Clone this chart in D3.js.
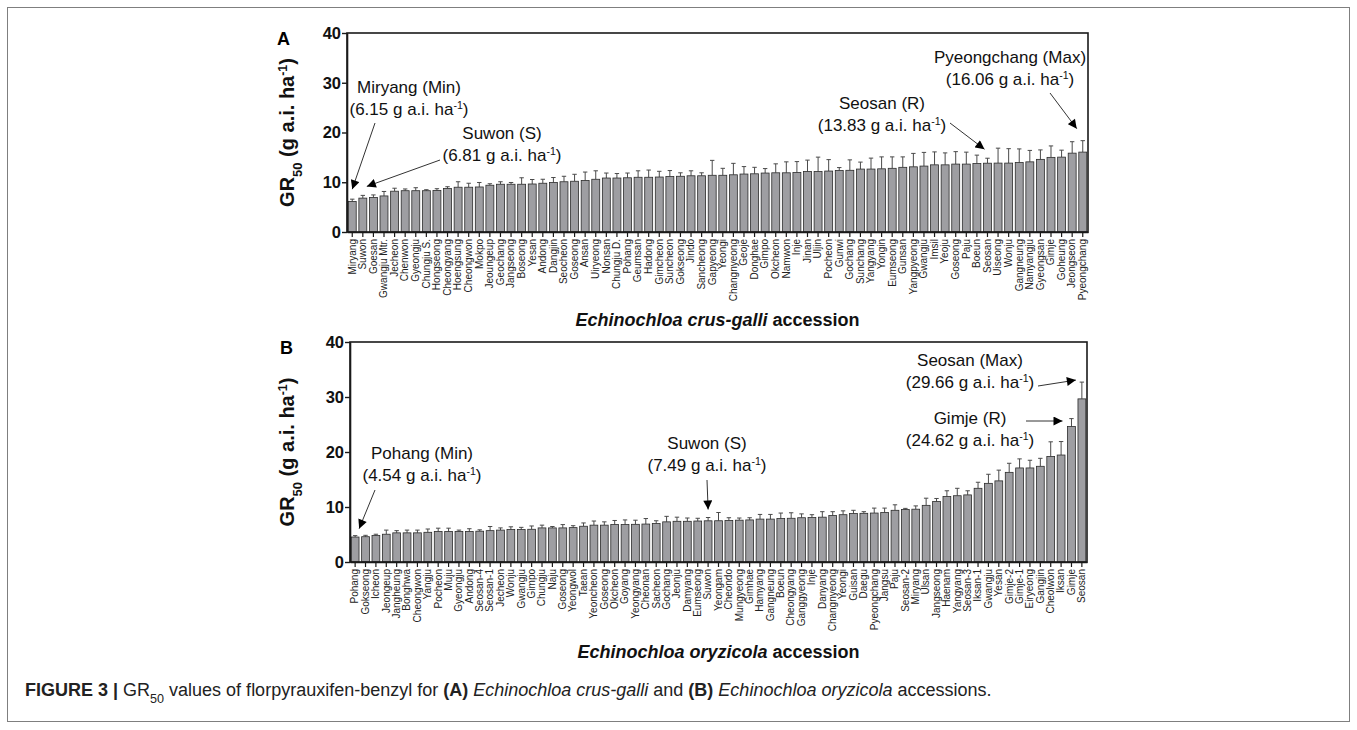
<!DOCTYPE html>
<html><head><meta charset="utf-8">
<script src="https://cdn.jsdelivr.net/npm/d3@7/dist/d3.min.js"></script>
<style>
html,body{margin:0;padding:0;background:#fff;}
svg{display:block;font-family:Arial,"Liberation Sans",sans-serif;}
</style></head>
<body>
<svg id="chart" width="1357" height="730"></svg>
<script>
// ---------- DATA ----------
const catsA = ["Miryang","Suwon","Goesan","Gwangju Mtr.","Jecheon","Chenwon","Gyeongju","Chungju S.","Hongseong","Cheongyang","Hoengsung","Cheongwon","Mokpo","Jeoungeup","Geochang","Jangseong","Boseong","Yesan","Andong","Dangjin","Seocheon","Goseong","Ansan","Uiryeong","Nonsan","Chungju D.","Pohang","Geumsan","Hadong","Gimcheon","Suncheon","Gokseong","Jindo","Sancheong","Gapyeong","Yeongi","Changnyeong","Geoje","Donghae","Gimpo","Okcheon","Namwon","Inje","Jinan","Uljin","Pocheon","Gunwi","Gochang","Sunchang","Yangyang","Yongin","Eumseong","Gunsan","Yangpyeong","Gwangju","Imsil","Yeoju","Goseong ","Paju","Boeun","Seosan","Uiseong","Wonju","Gangneung","Namyangju","Gyeongsan","Gimje","Goheung","Jeongseon","Pyeongchang"];
const valsA = [6.15,6.81,6.95,7.25,8.2,8.3,8.3,8.3,8.35,8.75,9.0,9.0,9.05,9.4,9.6,9.6,9.6,9.65,9.8,9.95,10.1,10.2,10.35,10.6,10.85,10.85,10.9,11.0,11.0,11.05,11.15,11.2,11.3,11.3,11.4,11.4,11.5,11.65,11.7,11.85,11.9,11.9,11.95,12.15,12.15,12.25,12.35,12.4,12.65,12.65,12.7,12.8,13.0,13.1,13.25,13.5,13.5,13.65,13.65,13.75,13.83,13.85,13.85,13.95,14.1,14.6,15.0,15.05,15.85,16.06];
const errA = [0.45,0.55,0.5,0.9,0.6,0.35,0.6,0.2,0.35,0.35,1.1,0.8,0.9,0.3,0.5,0.35,1.3,0.9,0.8,1.0,1.1,1.4,1.7,1.7,1.0,0.9,0.95,1.3,1.45,1.15,1.2,0.7,1.0,0.6,3.0,1.4,2.3,1.5,1.3,0.9,1.8,2.2,2.2,2.3,2.9,2.3,0.6,2.1,1.4,2.2,2.4,2.3,2.1,2.7,2.75,2.6,2.4,2.5,2.4,1.7,1.0,3.0,2.9,2.75,2.3,1.9,2.3,1.4,2.3,2.3];

const catsB = ["Pohang","Gokseong","Icheon","Jeongeup","Jangheung","Bonghwa","Cheongwon","Yangju","Pocheon","Muju","Gyeongju","Andong","Seosan-4","Seosan-1","Jecheon","Wonju","Gwangju","Gimpo","Chungju","Naju","Goseong","Yeongwol","Taean","Yeoncheon","Goseong ","Okcheon","Goyang","Yeongyang","Cheonan","Sacheon","Gochang","Jeonju","Damyang","Eumseong","Suwon","Yeongam","Cheondo","Mungyeong","Gimhae","Hamyang","Gangneung","Boeun","Cheongyang","Ganggyeong","Inje","Danyang","Changnyeong","Yeongi","Guisan","Daegu","Pyeongchang","Jangsu","Paju","Seosan-2","Miryang","Ulsan","Jangseong","Haenam","Yangyang","Seosan-3","Iksan-1","Gwangju ","Yesan","Gimje-2","Gimje-1","Eiryeong","Gangjin","Cheolwon","Iksan","Gimje","Seosan"];
const valsB = [4.54,4.6,4.8,5.05,5.3,5.3,5.3,5.4,5.55,5.55,5.55,5.55,5.6,5.7,5.8,5.9,5.9,5.95,6.2,6.2,6.2,6.25,6.5,6.7,6.7,6.8,6.8,6.85,6.9,7.0,7.3,7.4,7.4,7.45,7.49,7.5,7.55,7.6,7.65,7.8,7.8,7.9,7.95,8.05,8.1,8.15,8.45,8.6,8.8,8.85,8.9,9.0,9.4,9.55,9.6,10.3,11.0,11.9,12.05,12.2,13.4,14.3,14.75,16.3,17.1,17.1,17.4,19.2,19.45,24.62,29.66];
const errB = [0.25,0.25,0.25,0.75,0.4,0.5,0.5,0.6,0.6,0.6,0.25,0.5,0.25,0.75,0.4,0.5,0.4,0.6,0.5,0.25,0.6,0.35,0.6,0.75,0.6,0.75,0.85,0.75,1.0,0.5,1.0,0.75,0.6,0.5,0.6,1.5,0.5,0.4,0.4,0.85,0.85,1.0,1.0,0.7,0.5,1.0,0.7,0.7,0.6,0.3,0.9,0.8,1.0,0.2,0.6,1.3,0.55,1.05,1.35,0.75,1.1,1.65,1.95,1.65,1.65,1.4,1.45,2.65,2.45,1.45,3.05];

const yTicks = [0,10,20,30,40];

// annotations: category, label, value text, text centre/baseline, arrow start, tip offset from error-bar top
const annA = [
  {cat:"Miryang", l1:"Miryang (Min)", v:"6.15", tx:409, ty:93, sx:375, sy:123, dx:0, dy:-10},
  {cat:"Suwon", l1:"Suwon (S)", v:"6.81", tx:502, ty:139, sx:440, sy:160, dx:4, dy:-9},
  {cat:"Seosan", l1:"Seosan (R)", v:"13.83", tx:882, ty:109, sx:950, sy:123, dx:-3, dy:-9},
  {cat:"Pyeongchang", l1:"Pyeongchang (Max)", v:"16.06", tx:1010, ty:63, sx:1050, sy:93, dx:-6, dy:-12}
];
const annB = [
  {cat:"Pohang", l1:"Pohang (Min)", v:"4.54", tx:422, ty:459, sx:375, sy:490, dx:4, dy:-7},
  {cat:"Suwon", l1:"Suwon (S)", v:"7.49", tx:707, ty:449, sx:707, sy:480, dx:0, dy:-8},
  {cat:"Seosan", l1:"Seosan (Max)", v:"29.66", tx:970, ty:366, sx:1038, sy:386, dx:-6, dy:-2},
  {cat:"Gimje", l1:"Gimje (R)", v:"24.62", tx:970, ty:424, sx:1026, sy:421, dx:-9, dy:-5, horiz:true}
];

// ---------- DRAW ----------
const svg = d3.select("#chart");
svg.append("rect").attr("x",7.5).attr("y",7.5).attr("width",1342).attr("height",714)
  .attr("fill","none").attr("stroke","#7f7f7f").attr("stroke-width",1);

const defs = svg.append("defs");
defs.append("marker").attr("id","arr").attr("viewBox","0 0 10 10").attr("refX",10).attr("refY",5)
  .attr("markerWidth",10).attr("markerHeight",9).attr("markerUnits","userSpaceOnUse").attr("orient","auto")
  .append("path").attr("d","M0,0 L10,5 L0,10 Z").attr("fill","#000");

function supText(sel, pre, sup, post){
  sel.append("tspan").text(pre);
  sel.append("tspan").attr("baseline-shift","super").attr("font-size","0.62em").text(sup);
  if(post) sel.append("tspan").text(post);
}

function panel(o){
  const g = svg.append("g");
  const x = d3.scaleBand().domain(o.cats).range([o.x0,o.x1]).paddingInner(0.25).paddingOuter(0.12);
  const y = d3.scaleLinear().domain([0,40]).range([o.yb,o.yt]);
  const data = o.cats.map((c,i)=>({c, v:o.vals[i], e:o.errs[i]}));
  const bw = x.bandwidth();

  // error bars
  const eg = g.append("g").attr("stroke","#4a4a4a").attr("stroke-width",1);
  eg.selectAll("line.v").data(data).join("line")
    .attr("x1",d=>x(d.c)+bw/2).attr("x2",d=>x(d.c)+bw/2)
    .attr("y1",d=>y(d.v)).attr("y2",d=>y(d.v+d.e));
  eg.selectAll("line.c").data(data).join("line")
    .attr("x1",d=>x(d.c)+bw/2-2.2).attr("x2",d=>x(d.c)+bw/2+2.2)
    .attr("y1",d=>y(d.v+d.e)).attr("y2",d=>y(d.v+d.e));
  // bars
  g.append("g").selectAll("rect").data(data).join("rect")
    .attr("x",d=>x(d.c)).attr("width",bw)
    .attr("y",d=>y(d.v)).attr("height",d=>y(0)-y(d.v))
    .attr("fill","#9e9ea2").attr("stroke","#2b2b2b").attr("stroke-width",0.8);

  // frame
  g.append("rect").attr("x",o.x0).attr("y",o.yt).attr("width",o.x1-o.x0).attr("height",o.yb-o.yt)
    .attr("fill","none").attr("stroke","#1a1a1a").attr("stroke-width",1.6);

  // y axis
  const ya = g.append("g").attr("transform",`translate(${o.x0},0)`)
    .call(d3.axisLeft(y).tickValues(yTicks).tickSize(5).tickSizeOuter(0).tickFormat(d3.format("d")));
  ya.select(".domain").attr("stroke","#1a1a1a").attr("stroke-width",1.6);
  ya.selectAll(".tick line").attr("stroke","#1a1a1a").attr("stroke-width",1.4);
  ya.selectAll(".tick text").attr("font-size",16.5).attr("font-weight","bold")
    .attr("font-family","Arial, 'Liberation Sans', sans-serif").attr("fill","#111").attr("x",-6);

  // x axis
  const xa = g.append("g").attr("transform",`translate(0,${o.yb})`)
    .call(d3.axisBottom(x).tickSize(5).tickSizeOuter(0));
  xa.select(".domain").attr("stroke","#1a1a1a").attr("stroke-width",1.6);
  xa.selectAll(".tick line").attr("stroke","#1a1a1a").attr("stroke-width",1.2);
  xa.selectAll(".tick text").attr("font-size",10).attr("fill","#222")
    .attr("font-family","Arial, 'Liberation Sans', sans-serif")
    .attr("transform","rotate(-90)").attr("text-anchor","end")
    .attr("x",-7).attr("y",0).attr("dy","0.33em");

  // y title
  const yt = g.append("text").attr("transform",`translate(${o.ytx},${(o.yt+o.yb)/2}) rotate(-90)`)
    .attr("text-anchor","middle").attr("font-size",20).attr("font-weight","bold").attr("fill","#111");
  yt.append("tspan").text("GR");
  yt.append("tspan").attr("baseline-shift","sub").attr("font-size","0.65em").text("50");
  yt.append("tspan").text(" (g a.i. ha");
  yt.append("tspan").attr("baseline-shift","super").attr("font-size","0.62em").text("-1");
  yt.append("tspan").text(")");

  // panel letter
  g.append("text").attr("x",o.x0-70).attr("y",o.yt+12).attr("font-size",18).attr("font-weight","bold").text(o.letter);

  // x title
  const xt = g.append("text").attr("x",(o.x0+o.x1)/2).attr("y",o.xty).attr("text-anchor","middle")
    .attr("font-size",18).attr("font-weight","bold").attr("fill","#111");
  xt.append("tspan").attr("font-style","italic").text(o.species);
  xt.append("tspan").text(" accession");

  // annotations
  o.ann.forEach(a=>{
    const d = data.find(r=>r.c===a.cat);
    g.append("text").attr("x",a.tx).attr("y",a.ty).attr("text-anchor","middle")
      .attr("font-size",17).attr("fill","#111").text(a.l1);
    const t2 = g.append("text").attr("x",a.tx).attr("y",a.ty+22).attr("text-anchor","middle")
      .attr("font-size",17).attr("fill","#111");
    supText(t2, "("+a.v+" g a.i. ha", "-1", ")");
    const tipX = x(d.c)+bw/2+a.dx;
    const tipY = y(d.v+d.e)+a.dy;
    g.append("line").attr("x1",a.sx).attr("y1",a.sy)
      .attr("x2",tipX).attr("y2",a.horiz?a.sy:tipY)
      .attr("stroke","#333").attr("stroke-width",1).attr("marker-end","url(#arr)");
  });
}

panel({cats:catsA, vals:valsA, errs:errA, x0:347, x1:1088, yt:33, yb:232, ytx:294, xty:326,
  letter:"A", species:"Echinochloa crus-galli", ann:annA});
panel({cats:catsB, vals:valsB, errs:errB, x0:350, x1:1087, yt:342, yb:562, ytx:294, xty:658,
  letter:"B", species:"Echinochloa oryzicola", ann:annB});

// caption
const cap = svg.append("text").attr("x",25).attr("y",696).attr("font-size",18).attr("fill","#222");
cap.append("tspan").attr("font-weight","bold").text("FIGURE 3 | ");
cap.append("tspan").text("GR");
cap.append("tspan").attr("baseline-shift","sub").attr("font-size","0.7em").text("50");
cap.append("tspan").text(" values of florpyrauxifen-benzyl for ");
cap.append("tspan").attr("font-weight","bold").text("(A) ");
cap.append("tspan").attr("font-style","italic").text("Echinochloa crus-galli");
cap.append("tspan").text(" and ");
cap.append("tspan").attr("font-weight","bold").text("(B) ");
cap.append("tspan").attr("font-style","italic").text("Echinochloa oryzicola");
cap.append("tspan").text(" accessions.");
</script>
</body></html>
